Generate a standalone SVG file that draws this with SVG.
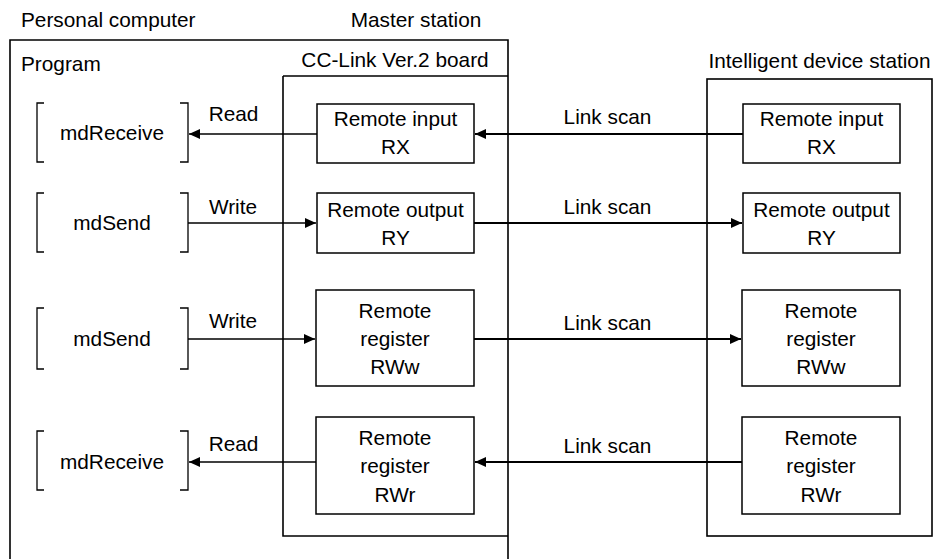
<svg xmlns="http://www.w3.org/2000/svg" width="934" height="559" viewBox="0 0 934 559">
<defs>
<style>
text{font-family:"Liberation Sans",Arial,sans-serif;font-size:20.8px;fill:#000}
.m{text-anchor:middle}
.frame{fill:none;stroke:#000;stroke-width:1.6}
.box{fill:#fff;stroke:#000;stroke-width:1.5}
.br{fill:none;stroke:#000;stroke-width:1.3}
.link{stroke:#000;stroke-width:2.2;fill:none}
.rw{stroke:#000;stroke-width:1.5;fill:none}
</style>
<marker id="ah" markerUnits="userSpaceOnUse" markerWidth="12" markerHeight="10" refX="11" refY="5" orient="auto">
<path d="M0,0 L11,5 L0,10 Z" fill="#000"/>
</marker>
</defs>
<rect width="934" height="559" fill="#fff"/>

<g id="personal-computer">
<text x="21" y="27">Personal computer</text>
<path class="frame" d="M10,570 V40 H508 V570"/>
<text x="21" y="71">Program</text>
</g>

<g id="master-station">
<text class="m" x="416" y="27">Master station</text>
<text class="m" x="395" y="67">CC-Link Ver.2 board</text>
<path class="frame" d="M283,76 H508 M283,76 V536 H508"/>
</g>

<g id="intelligent-device-station">
<text class="m" x="819.5" y="68">Intelligent device station</text>
<rect class="frame" x="707" y="79" width="225" height="457"/>
</g>

<g id="md-receive-1">
<path class="br" d="M44,103 H37 V162 H44 M180,103 H188 V162 H180"/>
<text class="m" x="112" y="140">mdReceive</text>
</g>
<g id="md-send-1">
<path class="br" d="M44,193 H37 V252 H44 M180,193 H188 V252 H180"/>
<text class="m" x="112" y="230">mdSend</text>
</g>
<g id="md-send-2">
<path class="br" d="M44,308 H37 V369 H44 M180,308 H188 V369 H180"/>
<text class="m" x="112" y="346">mdSend</text>
</g>
<g id="md-receive-2">
<path class="br" d="M44,431 H37 V490 H44 M180,431 H188 V490 H180"/>
<text class="m" x="112" y="469">mdReceive</text>
</g>

<g id="master-rx">
<rect class="box" x="317" y="104" width="157" height="59"/>
<text class="m" x="395.5" y="125.5">Remote input</text>
<text class="m" x="395.5" y="154">RX</text>
</g>
<g id="master-ry">
<rect class="box" x="317" y="193" width="157" height="60"/>
<text class="m" x="395.5" y="216.5">Remote output</text>
<text class="m" x="395.5" y="245">RY</text>
</g>
<g id="master-rww">
<rect class="box" x="316" y="290" width="158" height="96"/>
<text class="m" x="395" y="317.5">Remote</text>
<text class="m" x="395" y="346">register</text>
<text class="m" x="395" y="374">RWw</text>
</g>
<g id="master-rwr">
<rect class="box" x="316" y="417" width="158" height="97"/>
<text class="m" x="395" y="445">Remote</text>
<text class="m" x="395" y="473">register</text>
<text class="m" x="395" y="501.5">RWr</text>
</g>

<g id="ids-rx">
<rect class="box" x="743" y="104" width="157" height="59"/>
<text class="m" x="821.5" y="125.5">Remote input</text>
<text class="m" x="821.5" y="154">RX</text>
</g>
<g id="ids-ry">
<rect class="box" x="743" y="193" width="157" height="60"/>
<text class="m" x="821.5" y="216.5">Remote output</text>
<text class="m" x="821.5" y="245">RY</text>
</g>
<g id="ids-rww">
<rect class="box" x="742" y="290" width="158" height="96"/>
<text class="m" x="821" y="317.5">Remote</text>
<text class="m" x="821" y="346">register</text>
<text class="m" x="821" y="374">RWw</text>
</g>
<g id="ids-rwr">
<rect class="box" x="742" y="417" width="158" height="97"/>
<text class="m" x="821" y="445">Remote</text>
<text class="m" x="821" y="473">register</text>
<text class="m" x="821" y="501.5">RWr</text>
</g>

<g id="connectors">
<line class="rw" x1="317" y1="134" x2="189" y2="134" marker-end="url(#ah)"/>
<line class="link" x1="743" y1="134" x2="475" y2="134" marker-end="url(#ah)"/>
<line class="rw" x1="188" y1="223" x2="316" y2="223" marker-end="url(#ah)"/>
<line class="link" x1="474" y1="223" x2="742" y2="223" marker-end="url(#ah)"/>
<line class="rw" x1="188" y1="339" x2="315" y2="339" marker-end="url(#ah)"/>
<line class="link" x1="474" y1="339" x2="741" y2="339" marker-end="url(#ah)"/>
<line class="rw" x1="316" y1="462" x2="189" y2="462" marker-end="url(#ah)"/>
<line class="link" x1="742" y1="462" x2="475" y2="462" marker-end="url(#ah)"/>
<text class="m" x="233.5" y="121">Read</text>
<text class="m" x="233" y="213.5">Write</text>
<text class="m" x="233" y="328">Write</text>
<text class="m" x="233.5" y="451">Read</text>
<text class="m" x="607.5" y="124">Link scan</text>
<text class="m" x="607.5" y="214">Link scan</text>
<text class="m" x="607.5" y="330">Link scan</text>
<text class="m" x="607.5" y="452.5">Link scan</text>
</g>
</svg>
